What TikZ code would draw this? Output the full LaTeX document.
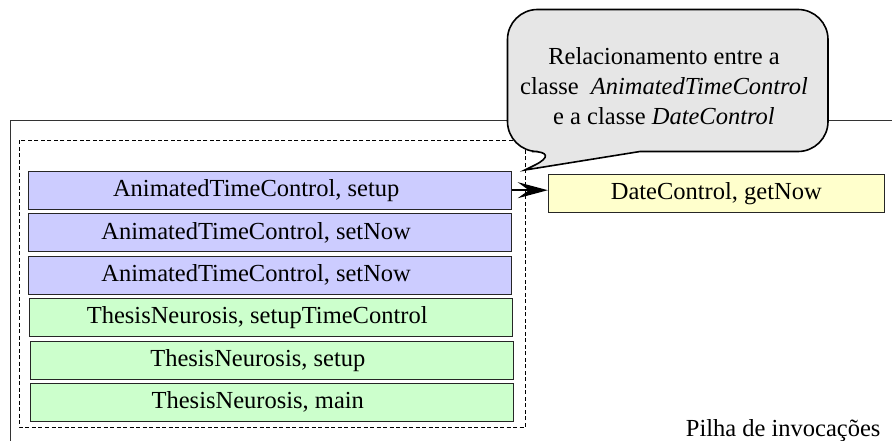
\documentclass[tikz,border=0pt]{standalone}
\usepackage{fontspec}
\setmainfont{Liberation Serif}
\usetikzlibrary{arrows.meta}
\newcommand{\CallTip}{Stealth[length=30pt,width=16pt,inset=11pt]}
\newcommand{\BoxFont}{\rmfamily\fontsize{24.5}{30}\selectfont}
\definecolor{stackblue}{HTML}{CCCCFF}
\definecolor{stackgreen}{HTML}{CCFFCC}
\definecolor{calleeyellow}{HTML}{FFFFCC}
\definecolor{bubblegray}{HTML}{E6E6E6}
\tikzset{frame/.style={draw=black!85,line width=1pt,minimum width=483pt,minimum height=38pt,inner sep=0pt,font=\BoxFont},
stackbox/.style={frame,execute at end node=\hspace{28pt}}}

\begin{document}
\begin{tikzpicture}[x=1pt,y=-1pt]
\useasboundingbox(0,0)rectangle(892,441);
\draw[black!80,line width=1pt](10,441)--(10,121)--(892,121);
\draw[line width=1pt,dash pattern=on 4pt off 2.5pt](19.5,140.5)rectangle(525.7,427);
\node[stackbox,fill=stackblue](atcSetup)at(270.2,190.2){AnimatedTimeControl, setup};
\node[stackbox,fill=stackblue](atcNowA)at(270.2,232.7){AnimatedTimeControl, setNow};
\node[stackbox,fill=stackblue](atcNowB)at(270.2,275.3){AnimatedTimeControl, setNow};
\node[stackbox,fill=stackgreen](tnTime)at(271.2,317.4){ThesisNeurosis, setupTimeControl};
\node[stackbox,fill=stackgreen](tnSetup)at(271.8,360.3){ThesisNeurosis, setup};
\node[stackbox,fill=stackgreen](tnMain)at(271.8,402.3){ThesisNeurosis, main};
\node[frame,fill=calleeyellow,minimum width=336pt](dcNow)at(716.3,193.7){DateControl, getNow};
\draw[line width=1.5pt,-{\CallTip}](atcSetup.east)--(atcSetup.east-|dcNow.west);
% balloon over the frame line
\draw[fill=bubblegray,line width=1.6pt](562,151.5)--(525,170)--(640,151.5)[rounded corners=30]--(828,151.5)--(828,9.5)--(507.5,9.5)--(507.5,151.5)--cycle;
\node[font=\BoxFont,align=center](note)at(664,86){Relacionamento entre a\\classe~~\textit{AnimatedTimeControl}\\e a classe \textit{DateControl}};
\node[font=\BoxFont,anchor=base east](stackLabel)at(884,436){Pilha de invocações};
\end{tikzpicture}
\end{document}
